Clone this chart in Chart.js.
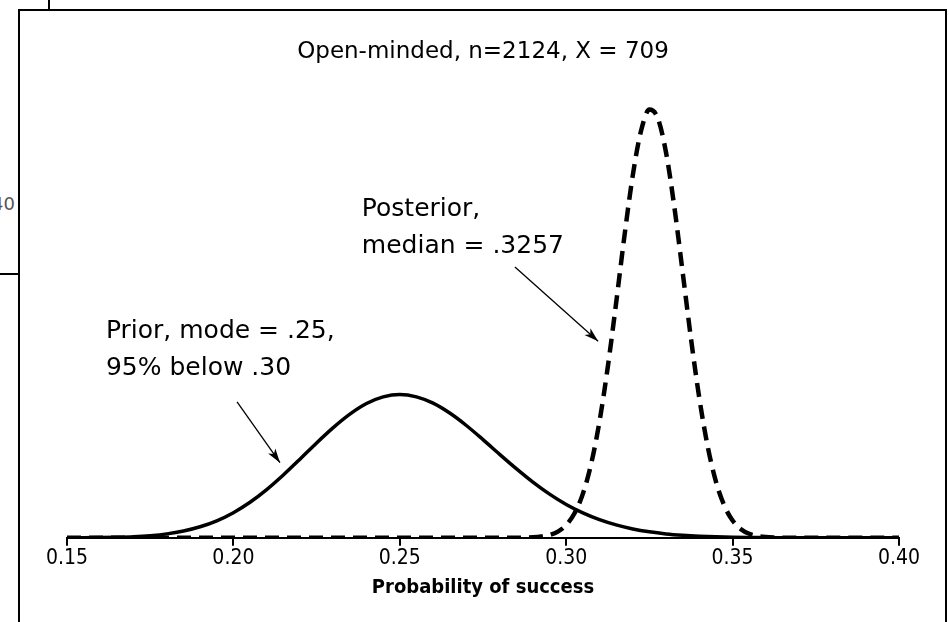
<!DOCTYPE html>
<html>
<head>
<meta charset="utf-8">
<title>Open-minded prior and posterior</title>
<script src="https://cdn.jsdelivr.net/npm/chart.js@4"></script>
<style>
    html, body { margin: 0; padding: 0; background: #fff; }
    body { width: 949px; height: 622px; position: relative; overflow: hidden; font-family: "DejaVu Sans", sans-serif; }
    #frame { position: absolute; left: 18px; top: 9px; width: 929px; height: 700px; border: 2px solid #000; box-sizing: border-box; }
    .edge { position: absolute; background: #000; }
    #stub { position: absolute; left: -20px; top: 193px; width: 35px; text-align: right; font-size: 18px; color: #555; }
    #chart { position: absolute; left: 0; top: 0; }
</style>
</head>
<body>
<!-- bits of the neighbouring panels that show at the edge -->
<div class="edge" style="left:48px; top:0; width:2px; height:10px;"></div>
<div class="edge" style="left:0; top:273px; width:19px; height:2px;"></div>
<div id="stub">.40</div>
<div id="frame"></div>
<canvas id="chart" width="949" height="622"></canvas>

<script>
/* ---------- data ---------- */
const titleText = "Open-minded, n=2124, X = 709";
const xTitle = "Probability of success";
const tickValues = [0.15, 0.20, 0.25, 0.30, 0.35, 0.40];

// prior curve (solid)
const priorX = [
    0.150, 0.155, 0.160, 0.165, 0.170, 0.175, 0.180, 0.185, 0.190, 0.195,
    0.200, 0.205, 0.210, 0.215, 0.220, 0.225, 0.230, 0.235, 0.240, 0.245,
    0.250, 0.255, 0.260, 0.265, 0.270, 0.275, 0.280, 0.285, 0.290, 0.295,
    0.300, 0.305, 0.310, 0.315, 0.320, 0.325, 0.330, 0.335, 0.340, 0.345,
    0.350, 0.355, 0.360, 0.365, 0.370, 0.375, 0.380, 0.385, 0.390, 0.395,
    0.400
];
const priorDensity = [
    0.005, 0.012, 0.027, 0.056, 0.11, 0.21, 0.38, 0.66, 1.07, 1.65,
    2.44, 3.45, 4.68, 6.10, 7.64, 9.22, 10.71, 12.02, 13.05, 13.69,
    13.92, 13.69, 13.08, 12.12, 10.91, 9.54, 8.11, 6.72, 5.41, 4.24,
    3.24, 2.42, 1.76, 1.25, 0.86, 0.58, 0.38, 0.25, 0.16, 0.10,
    0.06, 0.034, 0.02, 0.011, 0.006, 0.003, 0.002, 0.001, 0.0005, 0,
    0
];

// posterior curve (dashed)
const postX = [
    0.150,
    0.2800, 0.2825, 0.2850, 0.2875, 0.2900, 0.2925, 0.2950, 0.2975,
    0.3000, 0.3025, 0.3050, 0.3075, 0.3100, 0.3125, 0.3150, 0.3175,
    0.3200, 0.3225, 0.3250, 0.3275, 0.3300, 0.3325, 0.3350, 0.3375,
    0.3400, 0.3425, 0.3450, 0.3475, 0.3500, 0.3525, 0.3550, 0.3575,
    0.3600, 0.3625, 0.3650, 0.3675, 0.3700,
    0.400
];
const postDensity = [
    0,
    0, 0.002, 0.006, 0.017, 0.046, 0.12, 0.27, 0.60,
    1.24, 2.38, 4.27, 7.19, 11.29, 16.60, 22.81, 29.32,
    35.20, 39.55, 41.60, 40.78, 37.43, 32.13, 25.78, 19.34,
    13.57, 8.90, 5.45, 3.13, 1.68, 0.84, 0.39, 0.17,
    0.07, 0.027, 0.01, 0.003, 0.001,
    0
];

// callouts: text lines anchored at (x, y) in data units, arrow from -> to
const notes = [
    { lines: ["Posterior,", "median = .3257"], x: 0.2386, y: 31.3,
      from: [0.2846, 26.3], to: [0.3096, 19.1] },
    { lines: ["Prior, mode = .25,", "95% below .30"], x: 0.1617, y: 19.4,
      from: [0.2011, 13.2], to: [0.2140, 7.3] }
];

const condensed = "'DejaVu Sans Condensed', 'DejaVu Sans', sans-serif";

/* ---------- callout plugin ---------- */
function drawArrow(ctx, x1, y1, x2, y2) {
    const ang = Math.atan2(y2 - y1, x2 - x1);
    const len = 15, spread = 0.3;
    ctx.beginPath();
    ctx.moveTo(x1, y1);
    ctx.lineTo(x2, y2);
    ctx.lineWidth = 1.3;
    ctx.stroke();
    ctx.beginPath();
    ctx.moveTo(x2, y2);
    ctx.lineTo(x2 - len * Math.cos(ang - spread), y2 - len * Math.sin(ang - spread));
    ctx.lineTo(x2 - len * 0.7 * Math.cos(ang), y2 - len * 0.7 * Math.sin(ang));
    ctx.lineTo(x2 - len * Math.cos(ang + spread), y2 - len * Math.sin(ang + spread));
    ctx.closePath();
    ctx.fill();
}

const calloutPlugin = {
    id: "callouts",
    afterDatasetsDraw(chart) {
        const { ctx, scales: { x, y } } = chart;
        ctx.save();
        ctx.fillStyle = "#000";
        ctx.strokeStyle = "#000";
        ctx.font = "25px 'DejaVu Sans', sans-serif";
        ctx.textAlign = "left";
        ctx.textBaseline = "alphabetic";
        notes.forEach(n => {
            const px = x.getPixelForValue(n.x);
            const py = y.getPixelForValue(n.y);
            n.lines.forEach((t, i) => ctx.fillText(t, px, py + i * 37));
            drawArrow(ctx,
                x.getPixelForValue(n.from[0]), y.getPixelForValue(n.from[1]),
                x.getPixelForValue(n.to[0]), y.getPixelForValue(n.to[1]));
        });
        ctx.restore();
    }
};

/* ---------- chart ---------- */
const toPoints = (xs, ys) => xs.map((v, i) => ({ x: v, y: ys[i] }));

new Chart(document.getElementById("chart"), {
    type: "line",
    data: {
        datasets: [
            {
                label: "Prior",
                data: toPoints(priorX, priorDensity),
                borderColor: "#000",
                borderWidth: 3.5,
                pointRadius: 0,
                cubicInterpolationMode: "monotone",
                fill: false
            },
            {
                label: "Posterior",
                data: toPoints(postX, postDensity),
                borderColor: "#000",
                borderWidth: 4.5,
                borderDash: [14, 8],
                pointRadius: 0,
                cubicInterpolationMode: "monotone",
                fill: false
            }
        ]
    },
    options: {
        responsive: false,
        animation: false,
        layout: { padding: { left: 67, right: 50, top: 38, bottom: 20 } },
        plugins: {
            legend: { display: false },
            tooltip: { enabled: false },
            title: {
                display: true,
                text: titleText,
                color: "#000",
                font: { family: "'DejaVu Sans', sans-serif", size: 23, weight: "normal" },
                padding: { top: 0, bottom: 9 }
            }
        },
        scales: {
            x: {
                type: "linear",
                min: 0.15,
                max: 0.40,
                afterBuildTicks: s => { s.ticks = tickValues.map(v => ({ value: v })); },
                ticks: {
                    color: "#000",
                    padding: 0,
                    maxRotation: 0,
                    font: { family: condensed, size: 21 },
                    callback: v => v.toFixed(2)
                },
                grid: {
                    drawOnChartArea: false,
                    tickLength: 8,
                    color: "#000",
                    lineWidth: 2
                },
                border: { color: "#000", width: 2 },
                title: {
                    display: true,
                    text: xTitle,
                    color: "#000",
                    font: { family: condensed, size: 20, weight: "bold" },
                    padding: { top: 5, bottom: 2 }
                }
            },
            y: {
                display: false,
                min: 0,
                max: 45
            }
        }
    },
    plugins: [calloutPlugin]
});
</script>
</body>
</html>
